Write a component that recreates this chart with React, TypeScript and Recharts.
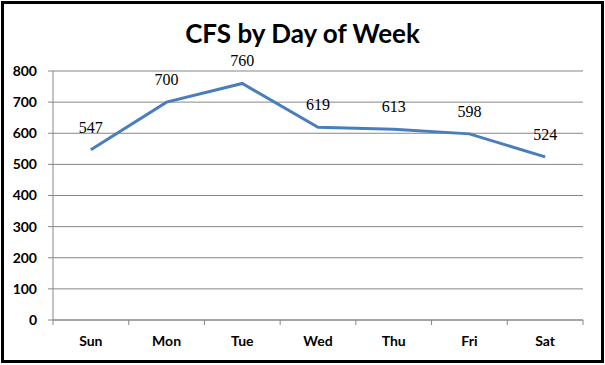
import { LineChart, Line, XAxis, YAxis, CartesianGrid, LabelList } from "recharts";

const DAYS = ["Sun", "Mon", "Tue", "Wed", "Thu", "Fri", "Sat"];
const CFS = [547, 700, 760, 619, 613, 598, 524];
const Y_TICKS = [0, 100, 200, 300, 400, 500, 600, 700, 800];

const data = DAYS.map((day, i) => ({ day, cfs: CFS[i] }));

const W = 605;
const H = 365;
const MARGIN = { top: 71, right: 22, bottom: 15, left: 0 };
const Y_AXIS_W = 53;
const PLOT_W = W - MARGIN.right - MARGIN.left - Y_AXIS_W;
const STEP = PLOT_W / DAYS.length;
const GRID = "#868686";
const LINE = "#4A7EBB";
const SANS = "Lato, 'Open Sans', sans-serif";

// category labels with Excel-style tick marks between categories
function DayTick({ x, y, payload, index }: { x: number; y: number; payload: { value: string }; index: number }) {
  const half = STEP / 2;
  return (
    <g>
      <line x1={x - half} x2={x - half} y1={y} y2={y + 5} stroke={GRID} />
      {index === DAYS.length - 1 && <line x1={x + half} x2={x + half} y1={y} y2={y + 5} stroke={GRID} />}
      <text x={x} y={y + 26} textAnchor="middle" fontFamily={SANS} fontWeight="bold" fontSize={14} fill="#000">
        {payload.value}
      </text>
    </g>
  );
}

export default function App() {
  return (
    <div style={{ position: "absolute", left: 0, top: 0, width: W, height: H, background: "#fff" }}>
      <div
        style={{
          position: "absolute", left: 1, top: 1, width: 603, height: 362,
          border: "3px solid #000", boxSizing: "border-box",
        }}
      />
      <div
        style={{
          position: "absolute", left: 0, top: 16, width: W, textAlign: "center",
          fontFamily: SANS, fontWeight: "bold", fontSize: 26, lineHeight: "34px", color: "#000",
        }}
      >
        CFS by Day of Week
      </div>
      <LineChart width={W} height={H} data={data} margin={MARGIN}>
        <CartesianGrid vertical={false} stroke={GRID} />
        <XAxis
          dataKey="day"
          height={30}
          padding={{ left: STEP / 2, right: STEP / 2 }}
          axisLine={{ stroke: GRID }}
          tickLine={false}
          tickSize={0}
          tickMargin={0}
          interval={0}
          tick={(props: any) => <DayTick {...props} />}
        />
        <YAxis
          width={Y_AXIS_W}
          domain={[0, 800]}
          ticks={Y_TICKS}
          axisLine={{ stroke: GRID }}
          tickLine={{ stroke: GRID }}
          tickSize={5}
          tickMargin={11}
          tick={{ fontFamily: SANS, fontWeight: "bold", fontSize: 14, fill: "#000" }}
        />
        <Line
          dataKey="cfs"
          type="linear"
          stroke={LINE}
          strokeWidth={3}
          dot={false}
          isAnimationActive={false}
        >
          <LabelList dataKey="cfs" position="top" offset={17} fontFamily="'Liberation Serif', serif" fontSize={16} fill="#000" />
        </Line>
      </LineChart>
    </div>
  );
}
